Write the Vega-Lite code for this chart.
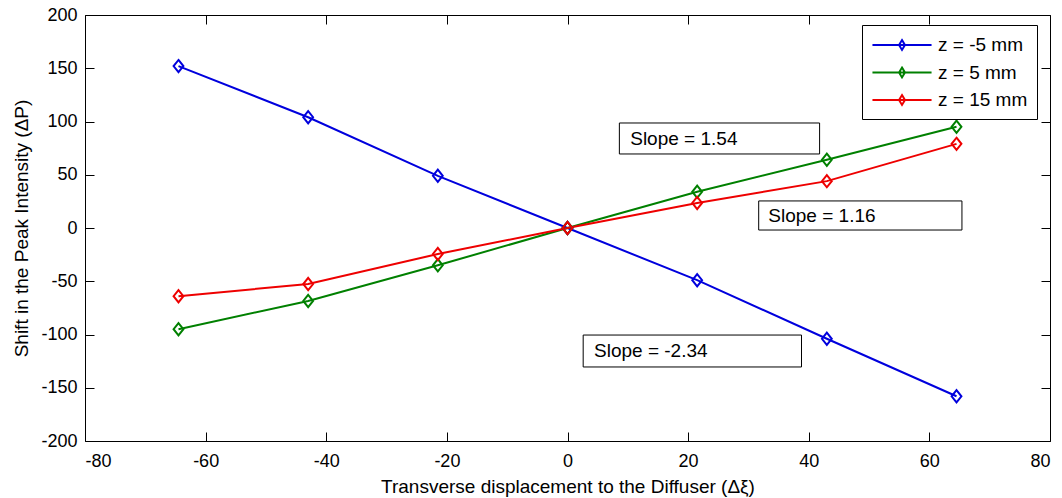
{
  "$schema": "https://vega.github.io/schema/vega-lite/v6.json",
  "width": 965,
  "height": 426,
  "autosize": {"type": "none"},
  "padding": {"left": 85, "top": 15, "right": 12, "bottom": 57},
  "background": "white",
  "config": {
    "font": "Liberation Sans",
    "view": {"stroke": "black", "strokeWidth": 1},
    "axis": {"grid": false, "domain": false, "tickColor": "black", "tickWidth": 1, "tickSize": -9, "labelColor": "black", "labelFont": "Liberation Sans", "labelFontSize": 18, "titleFont": "Liberation Sans", "titleFontSize": 19, "titleFontWeight": "normal", "titleColor": "black"}
  },
  "datasets": {
    "series": [
      {"x": -64.5, "y": 152, "series": "z = -5 mm"},
      {"x": -43, "y": 104, "series": "z = -5 mm"},
      {"x": -21.5, "y": 49, "series": "z = -5 mm"},
      {"x": 0, "y": 0, "series": "z = -5 mm"},
      {"x": 21.5, "y": -49, "series": "z = -5 mm"},
      {"x": 43, "y": -104, "series": "z = -5 mm"},
      {"x": 64.5, "y": -158, "series": "z = -5 mm"},
      {"x": -64.5, "y": -95, "series": "z = 5 mm"},
      {"x": -43, "y": -68.5, "series": "z = 5 mm"},
      {"x": -21.5, "y": -35, "series": "z = 5 mm"},
      {"x": 0, "y": 0, "series": "z = 5 mm"},
      {"x": 21.5, "y": 34, "series": "z = 5 mm"},
      {"x": 43, "y": 64, "series": "z = 5 mm"},
      {"x": 64.5, "y": 95, "series": "z = 5 mm"},
      {"x": -64.5, "y": -64, "series": "z = 15 mm"},
      {"x": -43, "y": -52.6, "series": "z = 15 mm"},
      {"x": -21.5, "y": -24.4, "series": "z = 15 mm"},
      {"x": 0, "y": 0, "series": "z = 15 mm"},
      {"x": 21.5, "y": 23.5, "series": "z = 15 mm"},
      {"x": 43, "y": 44, "series": "z = 15 mm"},
      {"x": 64.5, "y": 79, "series": "z = 15 mm"}
    ],
    "notes": [
      {"label": "Slope = 1.54", "x1": 8.6, "x2": 41.8, "y1": 98.6, "y2": 69.5, "tx": 10.4, "ty": 83.6},
      {"label": "Slope = 1.16", "x1": 31.7, "x2": 65.4, "y1": 25.4, "y2": -1.9, "tx": 33.3, "ty": 11.3},
      {"label": "Slope = -2.34", "x1": 2.6, "x2": 38.8, "y1": -100.5, "y2": -130.5, "tx": 4.4, "ty": -115.5}
    ]
  },
  "layer": [
    {
      "data": {"name": "series"},
      "mark": {"type": "line", "strokeWidth": 2, "point": {"shape": "M0,-1L0.8,0L0,1L-0.8,0Z", "filled": false, "size": 150, "strokeWidth": 2}},
      "encoding": {
        "x": {"field": "x", "type": "quantitative", "scale": {"domain": [-80, 80], "nice": false, "zero": false},
              "axis": {"orient": "bottom", "values": [-80, -60, -40, -20, 0, 20, 40, 60, 80], "labelExpr": "'' + datum.value", "labelPadding": 20, "title": "Transverse displacement to the Diffuser (Δξ)", "titleY": 51, "titleBaseline": "alphabetic"}},
        "y": {"field": "y", "type": "quantitative", "scale": {"domain": [-200, 200], "nice": false, "zero": false},
              "axis": {"orient": "left", "values": [-200, -150, -100, -50, 0, 50, 100, 150, 200], "labelExpr": "'' + datum.value", "labelPadding": 17, "title": "Shift in the Peak Intensity (ΔP)", "titleX": -58, "titleY": 213, "titleAngle": -90, "titleBaseline": "alphabetic", "titleAlign": "center"}},
        "color": {"field": "series", "type": "nominal",
                  "scale": {"domain": ["z = -5 mm", "z = 5 mm", "z = 15 mm"], "range": ["#0000dd", "#008000", "#ee0000"]},
                  "legend": {"title": null, "orient": "none", "legendX": 777, "legendY": 10, "strokeColor": "black", "fillColor": "white", "padding": 9, "rowPadding": 6.5,
                             "symbolType": "M-3,0H3M0,-0.5L0.3,0L0,0.5L-0.3,0Z", "symbolSize": 388, "symbolOffset": 20, "labelOffset": 25, "symbolStrokeWidth": 2, "symbolFillColor": "transparent",
                             "labelFont": "Liberation Sans", "labelFontSize": 19, "labelColor": "black", "labelLimit": 300}}
      }
    },
    {
      "data": {"name": "series"},
      "mark": {"type": "point", "opacity": 0},
      "encoding": {
        "x": {"field": "x", "type": "quantitative", "axis": {"orient": "top", "values": [-80, -60, -40, -20, 0, 20, 40, 60, 80], "labels": false, "title": null}},
        "y": {"field": "y", "type": "quantitative", "axis": {"orient": "right", "values": [-200, -150, -100, -50, 0, 50, 100, 150, 200], "labels": false, "title": null}}
      }
    },
    {
      "data": {"name": "notes"},
      "mark": {"type": "rect", "fill": "white", "stroke": "black", "strokeWidth": 1},
      "encoding": {
        "x": {"field": "x1", "type": "quantitative", "axis": null},
        "x2": {"field": "x2"},
        "y": {"field": "y1", "type": "quantitative", "axis": null},
        "y2": {"field": "y2"}
      }
    },
    {
      "data": {"name": "notes"},
      "mark": {"type": "text", "align": "left", "baseline": "middle", "font": "Liberation Sans", "fontSize": 19, "color": "black"},
      "encoding": {
        "x": {"field": "tx", "type": "quantitative", "axis": null},
        "y": {"field": "ty", "type": "quantitative", "axis": null},
        "text": {"field": "label"}
      }
    }
  ],
  "resolve": {"axis": {"x": "independent", "y": "independent"}}
}
